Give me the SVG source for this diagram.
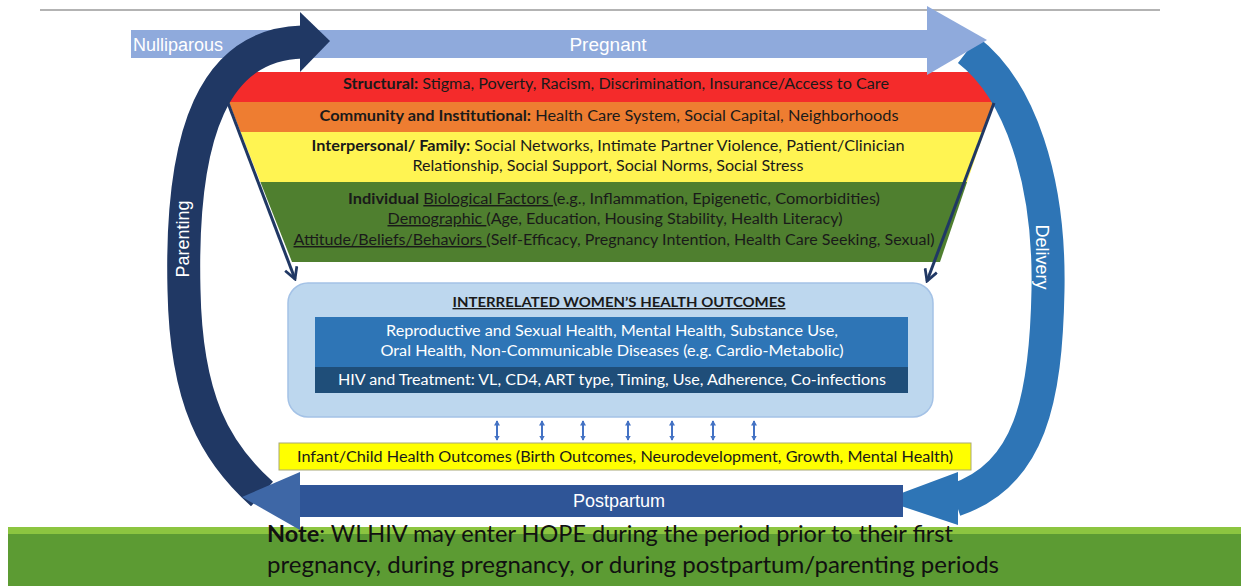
<svg xmlns="http://www.w3.org/2000/svg" width="1241" height="586" viewBox="0 0 1241 586">
<style>
.lbl{font-family:"Liberation Sans",Arial,sans-serif;font-size:18px;fill:#fff}
.c{font-family:Lato,"Open Sans",sans-serif;font-size:14.5px;fill:#1a1a1a}
.w{font-family:Lato,"Open Sans",sans-serif;font-size:14.5px;fill:#fff}
.b{font-weight:bold}
.u{text-decoration:underline}
.note{font-family:Lato,"Open Sans",sans-serif;font-size:23px;fill:#111}
.diag{stroke:#203864;stroke-width:3;fill:none}
.dbl{stroke:#4472C4;stroke-width:2;fill:none}
</style>
<defs>
<marker id="vh" viewBox="0 0 12 12" refX="10" refY="6" markerWidth="5" markerHeight="5" orient="auto" markerUnits="strokeWidth">
<path d="M1,1 L10,6 L1,11" fill="none" stroke="#203864" stroke-width="2.2"/>
</marker>
<marker id="sh" viewBox="0 0 8 8" refX="6" refY="4" markerWidth="3" markerHeight="3" orient="auto-start-reverse" markerUnits="strokeWidth">
<path d="M0,0 L7,4 L0,8 Z" fill="#4472C4"/>
</marker>
</defs>
<rect width="1241" height="586" fill="#fff"/>
<line x1="40" y1="10" x2="1160" y2="10" stroke="#9a9a9a" stroke-width="1.5"/>

<g id="green-band">
<rect x="8" y="527" width="1233" height="59" fill="#5C9B33"/>
<rect x="8" y="527" width="1233" height="7" fill="#8CC540"/>
</g>

<g id="funnel">
<polygon points="217,72 1004.5,72 994.3,102 228.8,102" fill="#F42B2B"/>
<polygon points="228.8,102 994.3,102 984.1,132 240.6,132" fill="#EE7D31"/>
<polygon points="240.6,132 984.1,132 967.1,182 260.4,182" fill="#FFF452"/>
<polygon points="260.4,182 967.1,182 940,262 292,262" fill="#4F7F2F"/>
<text class="c" x="616" y="89" text-anchor="middle" textLength="546" lengthAdjust="spacingAndGlyphs"><tspan class="b">Structural:</tspan> Stigma, Poverty, Racism, Discrimination, Insurance/Access to Care</text>
<text class="c" x="609" y="121" text-anchor="middle" textLength="579" lengthAdjust="spacingAndGlyphs"><tspan class="b">Community and  Institutional:</tspan> Health Care System, Social Capital, Neighborhoods</text>
<text class="c" x="608" y="151" text-anchor="middle" textLength="593" lengthAdjust="spacingAndGlyphs"><tspan class="b">Interpersonal/ Family:</tspan> Social Networks, Intimate Partner Violence, Patient/Clinician</text>
<text class="c" x="608" y="171" text-anchor="middle" textLength="391" lengthAdjust="spacingAndGlyphs">Relationship, Social Support, Social Norms, Social Stress</text>
<text class="c" x="614" y="204" text-anchor="middle" textLength="532" lengthAdjust="spacingAndGlyphs"><tspan class="b">Individual</tspan> <tspan class="u">Biological Factors </tspan>(e.g., Inflammation, Epigenetic, Comorbidities)</text>
<text class="c" x="615" y="224" text-anchor="middle" textLength="455" lengthAdjust="spacingAndGlyphs"><tspan class="u">Demographic </tspan>(Age, Education, Housing Stability, Health Literacy)</text>
<text class="c" x="614" y="245" text-anchor="middle" textLength="641" lengthAdjust="spacingAndGlyphs"><tspan class="u">Attitude/Beliefs/Behaviors </tspan>(Self-Efficacy, Pregnancy Intention, Health Care Seeking, Sexual)</text>
</g>

<g id="delivery-arrow">
<path d="M968 50 C1020 90 1050 180 1048 290 C1046 400 1030 475 955 500" fill="none" stroke="#2E75B6" stroke-width="33"/>
<polygon points="958,472 883,500 958,525" fill="#2E75B6"/>
<text class="lbl" transform="translate(1036,257) rotate(90)" text-anchor="middle">Delivery</text>
</g>

<g id="pregnant-arrow">
<rect x="131" y="30" width="800" height="28" fill="#8FAADC"/>
<polygon points="927,6 987,40 927,75" fill="#8FAADC"/>
<text class="lbl" x="133" y="51">Nulliparous</text>
<text class="lbl" x="608" y="51" text-anchor="middle" style="font-size:19px">Pregnant</text>
</g>

<g id="postpartum-arrow">
<rect x="298" y="485" width="605" height="32" fill="#2F5597"/>
<text class="lbl" x="619" y="507" text-anchor="middle">Postpartum</text>
</g>

<g id="parenting-arrow">
<path d="M302 42 C215 45 180 130 184 290 C186 400 215 452 262 494" fill="none" stroke="#203864" stroke-width="33"/>
<polygon points="300,12 330,41 300,72" fill="#203864"/>
<polygon points="300,472 242,497 300,530" fill="#3E67A6"/>
<text class="lbl" transform="translate(189,239) rotate(-90)" text-anchor="middle">Parenting</text>
</g>

<g id="connectors">
<line class="diag" x1="228" y1="103" x2="295" y2="279" marker-end="url(#vh)"/>
<line class="diag" x1="994" y1="103" x2="927" y2="281" marker-end="url(#vh)"/>
<line class="dbl" x1="497" y1="421" x2="497" y2="440" marker-start="url(#sh)" marker-end="url(#sh)"/>
<line class="dbl" x1="542" y1="421" x2="542" y2="440" marker-start="url(#sh)" marker-end="url(#sh)"/>
<line class="dbl" x1="583" y1="421" x2="583" y2="440" marker-start="url(#sh)" marker-end="url(#sh)"/>
<line class="dbl" x1="628" y1="421" x2="628" y2="440" marker-start="url(#sh)" marker-end="url(#sh)"/>
<line class="dbl" x1="672" y1="421" x2="672" y2="440" marker-start="url(#sh)" marker-end="url(#sh)"/>
<line class="dbl" x1="713" y1="421" x2="713" y2="440" marker-start="url(#sh)" marker-end="url(#sh)"/>
<line class="dbl" x1="754" y1="421" x2="754" y2="440" marker-start="url(#sh)" marker-end="url(#sh)"/>
</g>

<g id="womens-outcomes">
<rect x="288" y="283" width="645" height="134" rx="20" fill="#BDD7EE" stroke="#A4C2E6" stroke-width="1.5"/>
<text class="c b u" x="619" y="307" text-anchor="middle" textLength="333" lengthAdjust="spacingAndGlyphs" style="font-size:13.5px">INTERRELATED WOMEN’S HEALTH OUTCOMES</text>
<rect x="315" y="317" width="593" height="50" fill="#2E75B6"/>
<rect x="315" y="367" width="593" height="26" fill="#1F4E79"/>
<text class="w" x="612" y="336" text-anchor="middle" textLength="452" lengthAdjust="spacingAndGlyphs">Reproductive and Sexual Health, Mental Health, Substance Use,</text>
<text class="w" x="612" y="356" text-anchor="middle" textLength="463" lengthAdjust="spacingAndGlyphs">Oral Health, Non-Communicable Diseases (e.g. Cardio-Metabolic)</text>
<text class="w" x="612" y="385" text-anchor="middle" textLength="548" lengthAdjust="spacingAndGlyphs">HIV and Treatment: VL, CD4, ART type, Timing, Use, Adherence, Co-infections</text>
</g>

<g id="infant-outcomes">
<rect x="279" y="443" width="692" height="27" fill="#FFFF00" stroke="#A8A878" stroke-width="1"/>
<text class="c" x="625" y="462" text-anchor="middle" textLength="656" lengthAdjust="spacingAndGlyphs">Infant/Child Health Outcomes (Birth Outcomes, Neurodevelopment, Growth, Mental Health)</text>
</g>

<g id="note">
<text class="note" x="267" y="542" textLength="686" lengthAdjust="spacingAndGlyphs"><tspan class="b">Note</tspan>: WLHIV may enter HOPE during the period prior to their first</text>
<text class="note" x="267" y="573" textLength="732" lengthAdjust="spacingAndGlyphs">pregnancy, during pregnancy, or during postpartum/parenting periods</text>
</g>
</svg>
